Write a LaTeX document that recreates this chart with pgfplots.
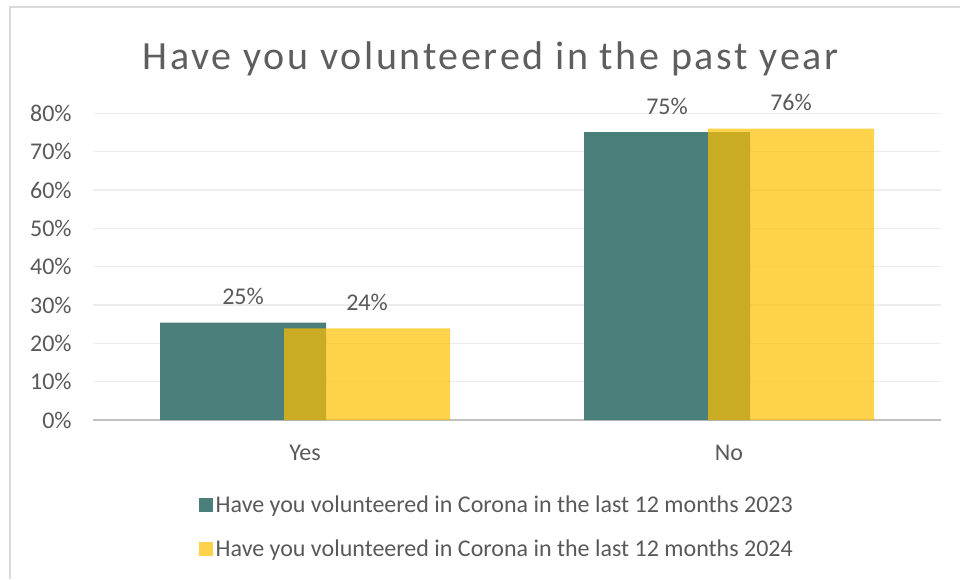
\documentclass[border=0pt]{standalone}
\usepackage{fontspec}
\setmainfont{Carlito}
\newfontfamily\titlefont[LetterSpace=6.7]{Carlito}
\usepackage{pgfplots}
\pgfplotsset{compat=1.18}
\definecolor{teal23}{HTML}{4A7F7C}
\definecolor{yel24}{HTML}{FFBF00}
\definecolor{txt}{HTML}{595959}
\definecolor{titc}{HTML}{5E5E5E}
\definecolor{gridc}{HTML}{EDEDED}
\definecolor{basec}{HTML}{BFBFBF}
\definecolor{framec}{HTML}{D9D9D9}
\begin{document}
\begin{tikzpicture}
\path[use as bounding box] (0pt,0pt) rectangle (720pt,434.25pt);
\draw[framec, line width=1.5pt] (7.5pt,0pt) -- (7.5pt,429pt) -- (720pt,429pt);
\node[anchor=base, text=titc, font=\titlefont\fontsize{30}{36}\selectfont] at (367.9pt,381.75pt) {Have you volunteered in the past year};
\begin{axis}[
  at={(69.75pt,119.25pt)}, anchor=south west,
  scale only axis, width=636pt, height=230pt,
  xmin=-0.5, xmax=1.5, ymin=0, ymax=80,
  xtick={0,1}, xticklabels={Yes,No},
  ytick={0,10,...,80},
  yticklabel={\pgfmathprintnumber{\tick}\%},
  /pgf/number format/assume math mode=true,
  ymajorgrids, grid style={gridc, line width=1.1pt},
  extra y ticks={0}, extra y tick labels={},
  extra y tick style={grid style={basec, line width=2pt}},
  axis line style={draw=none}, tick style={draw=none},
  tick label style={text=txt, font=\fontsize{18}{21}\selectfont},
  xticklabel style={yshift=-15.5pt},
  yticklabel style={xshift=-12.5pt},
  nodes near coords={\pgfmathprintnumber[fixed,precision=0]{\pgfplotspointmeta}\%},
  every node near coord/.append style={text=txt, font=\fontsize{18}{21}\selectfont, anchor=south, inner sep=0pt, yshift=13pt, /pgf/number format/assume math mode=true, opacity=1, fill opacity=1, text opacity=1},
  legend style={at={(0.12,-0.23)}, anchor=north west, draw=none, fill=none,
    font=\fontsize{18}{21}\selectfont, text=txt, legend cell align=left, row sep=15pt,
    nodes={inner sep=2pt}},
  legend image code/.code={\fill[#1, draw=none] (-3pt,-5.25pt) rectangle (7.5pt,5.25pt);},
]
\addplot[ybar, bar width=124.5pt, bar shift=-46.5pt, fill=teal23, draw=none,
  every node near coord/.append style={xshift=-46.5pt}] coordinates {(0,25.4) (1,75.1)};
\addlegendentry{Have you volunteered in Corona in the last 12 months 2023}
\addplot[ybar, bar width=124.5pt, bar shift=46.5pt, fill=yel24, fill opacity=0.7, draw=none,
  every node near coord/.append style={xshift=46.5pt}] coordinates {(0,23.9) (1,76.0)};
\addlegendentry{Have you volunteered in Corona in the last 12 months 2024}
\end{axis}
\end{tikzpicture}
\end{document}
